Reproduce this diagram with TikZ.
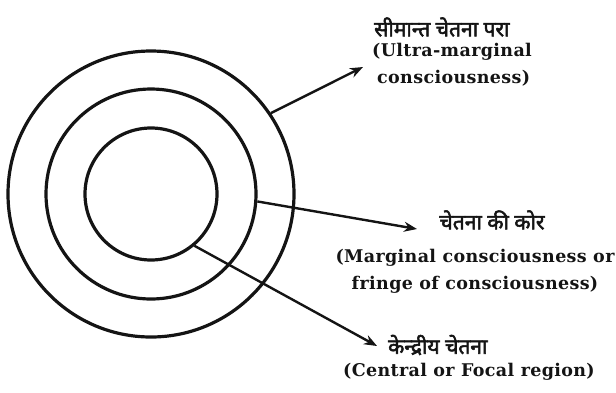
\documentclass[tikz,border=0pt]{standalone}
\usepackage{fontspec}
\usepackage{tikz}
\usetikzlibrary{arrows.meta,positioning,calc}
\newfontfamily\hindi[Script=Devanagari,FakeBold=2.5]{Noto Sans}
\newfontfamily\engfont[LetterSpace=2]{DejaVu Serif}
\definecolor{ink}{RGB}{20,20,20}
\tikzset{
  ring/.style={circle,draw=ink,line width=3.2pt,inner sep=0pt},
  eng/.style={font=\engfont\bfseries\fontsize{17.5}{27}\selectfont,text=ink,inner sep=0pt},
  hin/.style={font=\hindi\fontsize{21}{24}\selectfont,text=ink,inner sep=0pt},
  pointer/.style={-{Stealth[length=13pt,width=10pt]},line width=2.4pt,ink},
}

\begin{document}
\begin{tikzpicture}[x=1pt,y=-1pt]
  \useasboundingbox (0,0) rectangle (616,392);
  % three concentric regions of consciousness
  \coordinate (c) at (151,194);
  \node[ring,minimum size=286pt] (outer) at (c) {};
  \node[ring,minimum size=210pt] (middle) at (c) {};
  \node[ring,minimum size=132pt] (inner) at (c) {};

  % labels
  \node[hin,anchor=west] (ultraH) at (374,27) {सीमान्त चेतना परा};
  \node[eng,anchor=north west,align=left] (ultraE) at (372,43)
    {(Ultra-marginal\\\hspace*{5pt}consciousness)};
  \node[hin] (fringeH) at (492,220) {चेतना की कोर};
  \node[eng,align=center] (fringeE) at (475,271)
    {(Marginal consciousness or\\fringe of consciousness)};
  \node[hin,anchor=west] (focalH) at (388,345) {केन्द्रीय चेतना};
  \node[eng,anchor=west] (focalE) at (343,372) {(Central or Focal region)};

  % arrows from the rings
  \coordinate (t1) at (363,67);
  \coordinate (t2) at (417,229);
  \coordinate (t3) at (377,346);
  \draw[pointer] (outer.34) -- (t1);
  \draw[pointer] (middle.-4) -- (t2);
  \draw[pointer] (inner.-50) -- (t3);
\end{tikzpicture}
\end{document}
